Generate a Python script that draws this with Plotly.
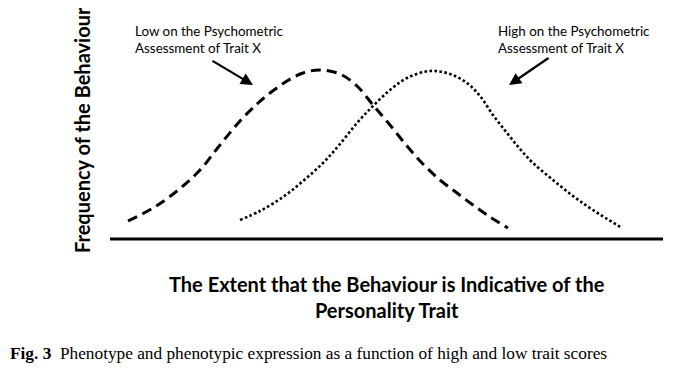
import plotly.graph_objects as go

# x = position along the trait axis, y = frequency (height above baseline)
low_x = [128, 153, 177, 200, 220, 240, 257, 270, 287, 303, 320, 340, 357, 373, 390, 407, 423, 440, 457, 473, 490, 508]
low_y = [19, 32, 49, 70, 95, 119, 136, 147, 159, 167, 170, 166, 154, 135, 115, 94, 76, 60, 47, 35, 23, 12]

high_x = [240, 260, 283, 303, 323, 340, 357, 373, 390, 407, 430, 450, 467, 480, 493, 507, 520, 533, 553, 573, 593, 622]
high_y = [20, 29, 43, 59, 77, 96, 117, 134, 150, 162, 169, 166, 157, 144, 125, 107, 91, 77, 60, 44, 30, 12]

low_label = "Low on the Psychometric<br>Assessment of Trait X"
high_label = "High on the Psychometric<br>Assessment of Trait X"
y_title = "Frequency of the Behaviour"
x_title = "The Extent that the Behaviour is Indicative of the<br>Personality Trait"
caption = "<b>Fig. 3</b>  Phenotype and phenotypic expression as a function of high and low trait scores"

sans = "Lato, Carlito, 'Open Sans', sans-serif"
serif = "'Liberation Serif', 'DejaVu Serif', serif"

fig = go.Figure()
fig.add_trace(go.Scatter(x=low_x, y=low_y, mode="lines",
                         line=dict(color="black", width=3, dash="10px,6px", shape="spline", smoothing=1),
                         showlegend=False, hoverinfo="skip"))
fig.add_trace(go.Scatter(x=high_x, y=high_y, mode="lines",
                         line=dict(color="black", width=2.6, dash="2.6px,2.4px", shape="spline", smoothing=1),
                         showlegend=False, hoverinfo="skip"))

# baseline axis
fig.add_shape(type="line", x0=110, x1=663, y0=1, y1=1, xref="x", yref="y",
              line=dict(color="black", width=3))

# annotations with arrows
fig.add_annotation(x=253, y=155, ax=211, ay=180, xref="x", yref="y", axref="x", ayref="y",
                   showarrow=True, arrowhead=2, arrowsize=1.1, arrowwidth=2.2, arrowcolor="black", text="")
fig.add_annotation(x=509, y=155, ax=550, ay=183, xref="x", yref="y", axref="x", ayref="y",
                   showarrow=True, arrowhead=2, arrowsize=1.1, arrowwidth=2.2, arrowcolor="black", text="")
fig.add_annotation(x=133, y=200.5, xref="x", yref="y", text=low_label, showarrow=False,
                   xanchor="left", yanchor="middle", align="left",
                   font=dict(family=sans, size=13.4, color="black"))
fig.add_annotation(x=496, y=200.5, xref="x", yref="y", text=high_label, showarrow=False,
                   xanchor="left", yanchor="middle", align="left",
                   font=dict(family=sans, size=13.4, color="black"))

# axis titles
fig.add_annotation(x=82, y=110, xref="x", yref="y", text="<b>" + y_title + "</b>", showarrow=False,
                   textangle=-90, xanchor="center", yanchor="middle",
                   font=dict(family=sans, size=20, color="black"))
fig.add_annotation(x=387, y=-57, xref="x", yref="y", text="<b>" + x_title + "</b>", showarrow=False,
                   xanchor="center", yanchor="middle", align="center",
                   font=dict(family=sans, size=20, color="black"))
fig.add_annotation(x=0.0, y=-113, xref="paper", yref="y", text=caption, showarrow=False,
                   xanchor="left", yanchor="middle", align="left",
                   font=dict(family=serif, size=17.3, color="black"))

fig.update_layout(
    width=675, height=361,
    margin=dict(l=0, r=0, t=0, b=0),
    paper_bgcolor="white", plot_bgcolor="white",
    xaxis=dict(range=[8, 683], visible=False, fixedrange=True),
    yaxis=dict(range=[-129, 232], visible=False, fixedrange=True),
)

fig.write_html("out.html")
